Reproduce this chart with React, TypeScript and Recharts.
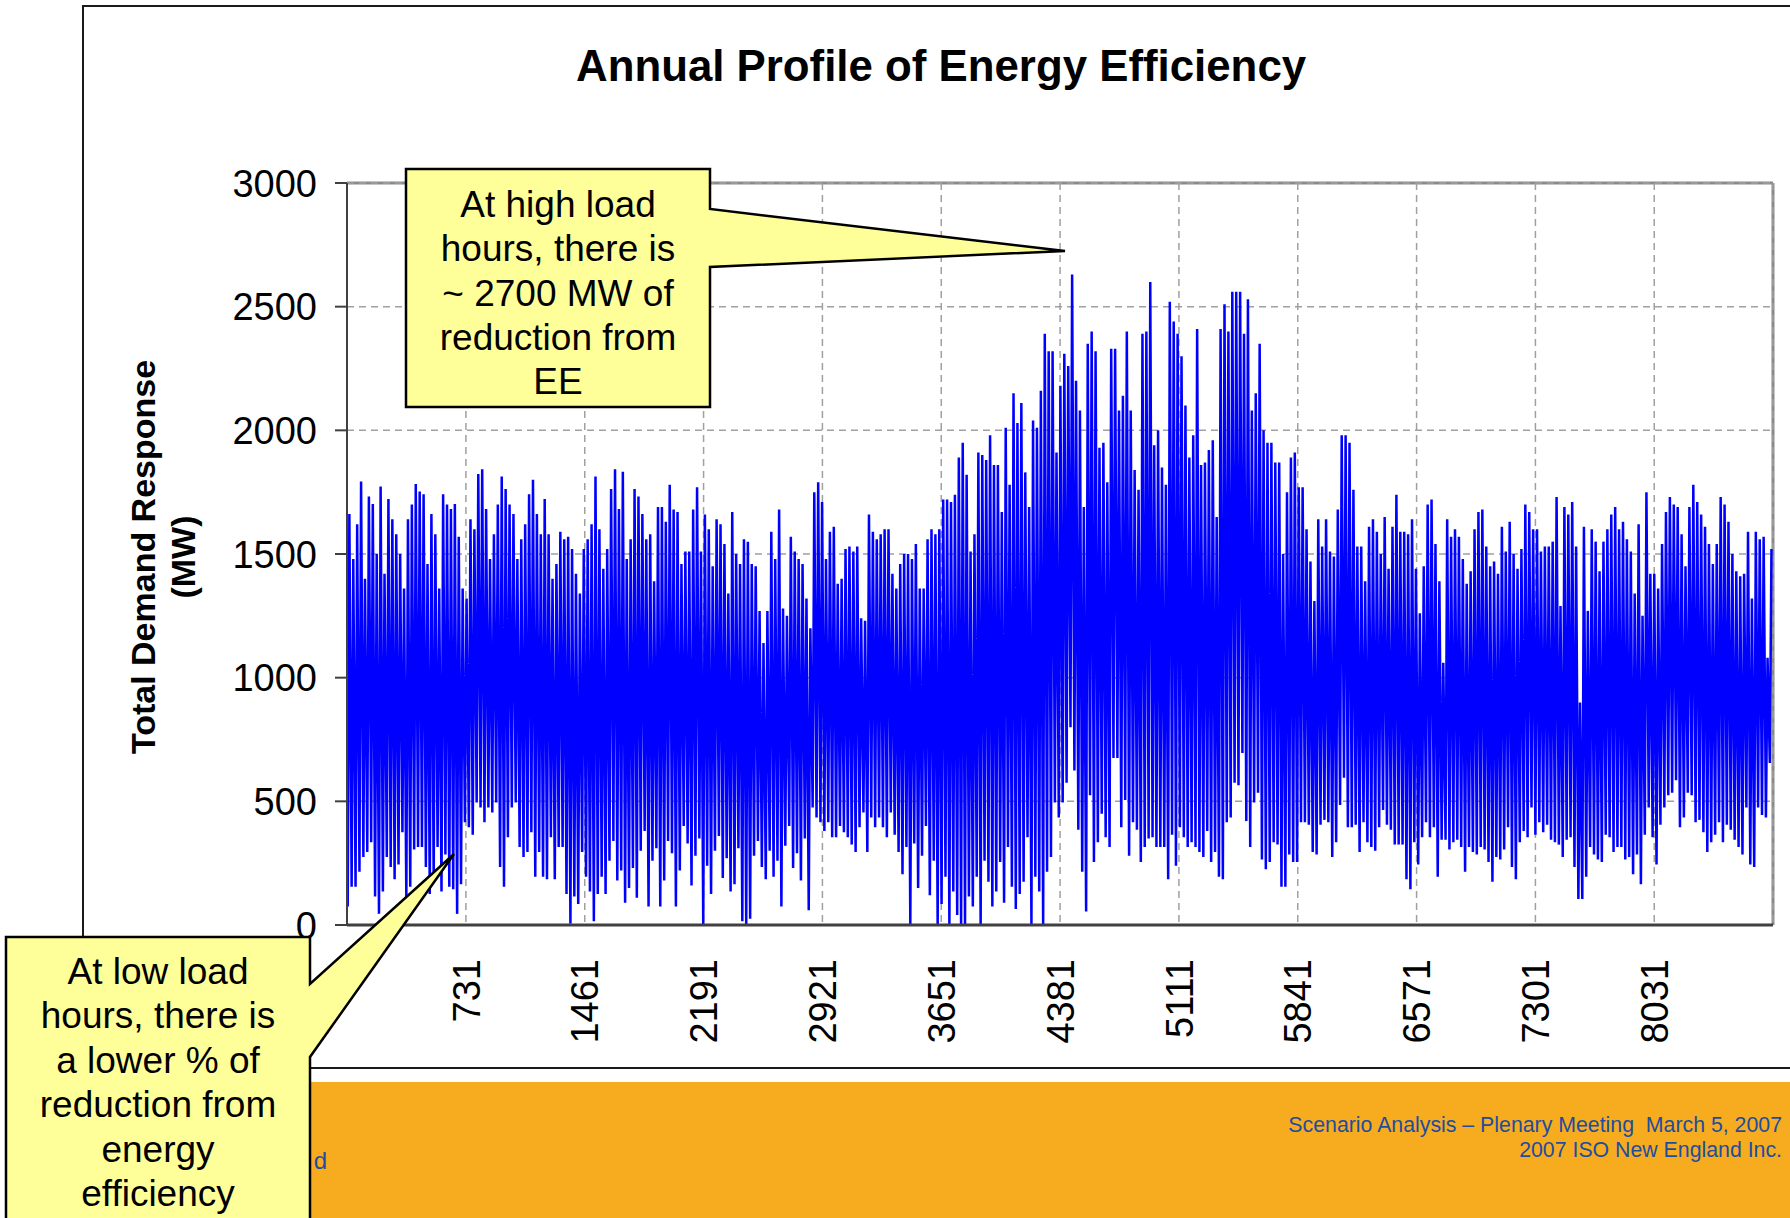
import React from "react";
import { LineChart, Line, XAxis, YAxis, CartesianGrid } from "recharts";

// Daily low (night) and high (day) energy-efficiency reduction, MW
const dayLow: number[] = [
  75,155,155,215,275,295,335,115,45,135, 275,235,185,245,375,105,155,305,315,315,
  235,125,175,315,135,285,155,145,45,165, 415,395,365,495,475,415,475,455,495,235,
  155,355,475,495,315,275,295,375,195,295, 195,185,355,185,315,315,125,5,115,85,
  295,195,135,15,125,195,125,260,340,180, 220,90,150,230,110,300,
  380,75,260,310,75,180,340,290,75,220, 400,330,160,280,350,0,240,125,300,360,
  190,270,135,165,310,15,0,25,280,340, 235,185,300,195,260,75,320,400,230,290,
  180,350,60,475,435,415,380,415,355,355, 400,375,355,325,295,395,455,295,435,395,
  435,395,355,455,365,295,205,315,0,330, 150,280,400,120,260,0,
  85,195,0,135,40,0,0,115,75,195, 0,260,175,75,135,255,90,315,155,65,
  125,175,355,0,195,135,0,215,275,495, 435,495,575,800,625,385,215,55,525,255,
  335,450,355,315,675,675,395,505,280,415, 385,255,315,350,355,315,315,315,185,365,
  240,395,355,315,335,315,295,275,380,255, 295,195,185,415,435,575,
  565,695,420,315,495,535,265,225,255,335, 325,155,155,285,255,255,415,415,405,295,
  285,405,425,415,275,335,485,595,395,395, 405,295,415,335,315,300,395,465,405,385,
  325,325,325,185,145,335,245,355,415,355, 395,195,345,345,305,335,345,315,215,315,
  295,285,315,305,255,175,275,265,305,395, 235,185,335,380,355,475,
  365,415,375,405,345,335,325,275,345,355, 235,105,105,195,315,285,265,255,365,355,
  295,315,315,265,275,205,285,165,365,475, 355,245,405,475,525,535,585,395,435,535,
  525,415,425,375,295,335,365,415,335,405, 385,345,315,285,475,245,235,475,445,435,
  655,
];

const dayHigh: number[] = [
  1662,1480,1620,1793,1400,1732,1702,1500,1773,1420, 1722,1640,1580,1500,1360,1640,1700,1783,1753,1742,
  1460,1662,1580,1360,1742,1700,1682,1702,1570,1360, 1320,1640,1600,1823,1843,1682,1480,1580,1700,1813,
  1763,1700,1662,1480,1560,1620,1742,1800,1662,1580, 1722,1580,1400,1460,1590,1560,1570,1520,1420,1340,
  1520,1560,1620,1813,1600,1440,1520,1763,1843,1682, 1833,1480,1560,1763,1732,1662,
  1560,1580,1390,1690,1690,1630,1780,1680,1670,1460, 1510,1510,1680,1770,1510,1660,1600,1450,1640,1620,
  1540,1340,1670,1500,1460,1560,1550,1460,1450,1270, 1140,1270,1590,1480,1680,1280,1250,1570,1510,1480,
  1460,1320,1200,1750,1790,1710,1480,1590,1610,1380, 1400,1520,1530,1510,1530,1240,1230,1660,1590,1560,
  1580,1600,1600,1420,1360,1460,1500,1500,1480,1540, 1360,1360,1560,1600,1580,1600,
  1720,1720,1710,1740,1890,1950,1820,1510,1580,1910, 1900,1880,1980,1860,1860,1670,2010,1780,2150,2030,
  2110,1830,1690,2040,2010,2160,2390,2320,2320,1910, 2180,2310,2260,2630,2200,2080,1690,2350,2400,2320,
  1930,1950,1790,2330,2330,2080,2140,2400,2080,1840, 1760,2390,2400,2600,1940,2000,1850,1780,2520,2440,
  2390,2300,2100,1890,1980,2410,1860,1870,1920,1960, 1650,2410,2510,2400,2560,2560,
  2560,2390,2530,2080,2150,2350,2000,1950,1950,1870, 1870,1500,1750,1890,1910,1770,1770,1600,1470,1310,
  1640,1530,1640,1510,1490,1680,1980,1980,1950,1760, 1530,1530,1390,1610,1640,1590,1500,1650,1440,1610,
  1740,1590,1590,1580,1640,1440,1260,1450,1700,1720, 1540,1390,1060,1640,1570,1600,1570,1480,1380,1430,
  1600,1670,1680,1530,1450,1470,1420,1610,1510,1630, 1500,1440,1520,1700,1670,1600,
  1600,1510,1530,1530,1550,1730,1290,1690,1660,1710, 1530,900,1610,1270,1600,1550,1430,1550,1600,1660,
  1690,1600,1630,1560,1510,1340,1620,1250,1750,1420, 1420,1360,1540,1670,1730,1700,1690,1580,1450,1690,
  1780,1710,1660,1610,1540,1460,1540,1730,1700,1630, 1500,1430,1410,1420,1590,1320,1590,1560,1570,1080,
  1520,
];

const hourTicks: number[] = [1, 731, 1461, 2191, 2921, 3651, 4381, 5111, 5841, 6571, 7301, 8031];
const mwTicks: number[] = [0, 500, 1000, 1500, 2000, 2500, 3000];

const titleText = "Annual Profile of Energy Efficiency";
const yTitleLines = ["Total Demand Response", "(MW)"];
const highNote = ["At high load", "hours, there is", "~ 2700 MW of", "reduction from", "EE"];
const lowNote = ["At low load", "hours, there is", "a lower % of", "reduction from", "energy", "efficiency"];
const footerLines = ["Scenario Analysis \u2013 Plenary Meeting  March 5, 2007", "2007 ISO New England Inc."];
const hiddenFooter = "d";

// hour-of-year table: night low then afternoon high for every day
const data: { hour: number; mw: number }[] = [];
for (let d = 0; d < dayHigh.length; d++) {
  data.push({ hour: d * 24 + 5, mw: dayLow[d] });
  data.push({ hour: d * 24 + 15, mw: dayHigh[d] });
}

const FONT = "'Liberation Sans', Arial, Helvetica, sans-serif";

const XTick = (props: any) => {
  const { x, y, payload } = props;
  return (
    <text
      x={x}
      y={y}
      transform={`rotate(-90 ${x} ${y})`}
      textAnchor="end"
      dy="0.36em"
      fontSize={38}
      fontFamily={FONT}
      fill="#000"
    >
      {payload.value}
    </text>
  );
};

const YTick = (props: any) => {
  const { x, y, payload } = props;
  return (
    <text x={x} y={y} textAnchor="end" dy="0.36em" fontSize={38} fontFamily={FONT} fill="#000">
      {payload.value}
    </text>
  );
};

export default function App() {
  const W = 1790;
  const H = 1218;
  return (
    <div style={{ position: "absolute", left: 0, top: 0, width: W, height: H, background: "#fff", overflow: "hidden" }}>
      {/* background layer */}
      <svg width={W} height={H} style={{ position: "absolute", left: 0, top: 0 }}>
        <rect x={83} y={6} width={1800} height={1062} fill="#fff" stroke="#1a1a1a" strokeWidth={2} />
        <rect x={100} y={1082} width={1700} height={140} fill="#F6AC1E" />
        <text x={576} y={81} fontSize={43.8} fontWeight="bold" fontFamily={FONT} fill="#000">
          {titleText}
        </text>
        <text
          transform="rotate(-90 143 557)"
          x={143}
          y={557}
          dy="0.36em"
          textAnchor="middle"
          fontSize={34}
          fontWeight="bold"
          fontFamily={FONT}
          fill="#000"
        >
          {yTitleLines[0]}
        </text>
        <text
          transform="rotate(-90 183 557)"
          x={183}
          y={557}
          dy="0.36em"
          textAnchor="middle"
          fontSize={34}
          fontWeight="bold"
          fontFamily={FONT}
          fill="#000"
        >
          {yTitleLines[1]}
        </text>
        <line x1={347} y1={183} x2={1773} y2={183} stroke="#8a8a8a" strokeWidth={3} />
        <line x1={1773} y1={183} x2={1773} y2={925} stroke="#8a8a8a" strokeWidth={3} />
        <text x={1782} y={1132} textAnchor="end" fontSize={21.3} fontFamily={FONT} fill="#1E4DA0" style={{ whiteSpace: "pre" }}>
          {footerLines[0]}
        </text>
        <text x={1782} y={1157} textAnchor="end" fontSize={21.3} fontFamily={FONT} fill="#1E4DA0">
          {footerLines[1]}
        </text>
        <text x={327} y={1169} textAnchor="end" fontSize={24} fontFamily={FONT} fill="#1E4DA0">
          {hiddenFooter}
        </text>
      </svg>

      {/* chart layer */}
      <div style={{ position: "absolute", left: 0, top: 0 }}>
        <LineChart width={W} height={H} data={data} margin={{ top: 183, right: 17, bottom: 213, left: 247 }}>
          <CartesianGrid stroke="#a0a0a0" strokeDasharray="7 5" strokeWidth={1.5} />
          <XAxis
            dataKey="hour"
            type="number"
            domain={[0.5, 8760.5]}
            ticks={hourTicks}
            interval={0}
            height={80}
            tickSize={0}
            tickMargin={34}
            tickLine={false}
            axisLine={{ stroke: "#404040", strokeWidth: 3 }}
            tick={<XTick />}
            allowDataOverflow
          />
          <YAxis
            type="number"
            domain={[0, 3000]}
            ticks={mwTicks}
            interval={0}
            width={100}
            tickSize={12}
            tickMargin={18}
            tickLine={{ stroke: "#404040", strokeWidth: 2 }}
            axisLine={{ stroke: "#404040", strokeWidth: 2 }}
            tick={<YTick />}
            allowDataOverflow
          />
          <Line
            type="linear"
            dataKey="mw"
            stroke="#0000FF"
            strokeWidth={2.5}
            dot={false}
            activeDot={false}
            isAnimationActive={false}
          />
        </LineChart>
      </div>

      {/* annotation layer */}
      <svg width={W} height={H} style={{ position: "absolute", left: 0, top: 0, pointerEvents: "none" }}>
        <path
          d="M406,169 L710,169 L710,209 L1065,251 L710,267 L710,407 L406,407 Z"
          fill="#FFFF99"
          stroke="#000"
          strokeWidth={2.5}
          strokeLinejoin="miter"
        />
        {highNote.map((t, i) => (
          <text key={t} x={558} y={217 + i * 44.3} textAnchor="middle" fontSize={37} fontFamily={FONT} fill="#000">
            {t}
          </text>
        ))}
        <path
          d="M6,937 L310,937 L310,984 L454,854 L310,1057 L310,1240 L6,1240 Z"
          fill="#FFFF99"
          stroke="#000"
          strokeWidth={2.5}
        />
        {lowNote.map((t, i) => (
          <text key={t} x={158} y={984 + i * 44.4} textAnchor="middle" fontSize={37} fontFamily={FONT} fill="#000">
            {t}
          </text>
        ))}
      </svg>
    </div>
  );
}
